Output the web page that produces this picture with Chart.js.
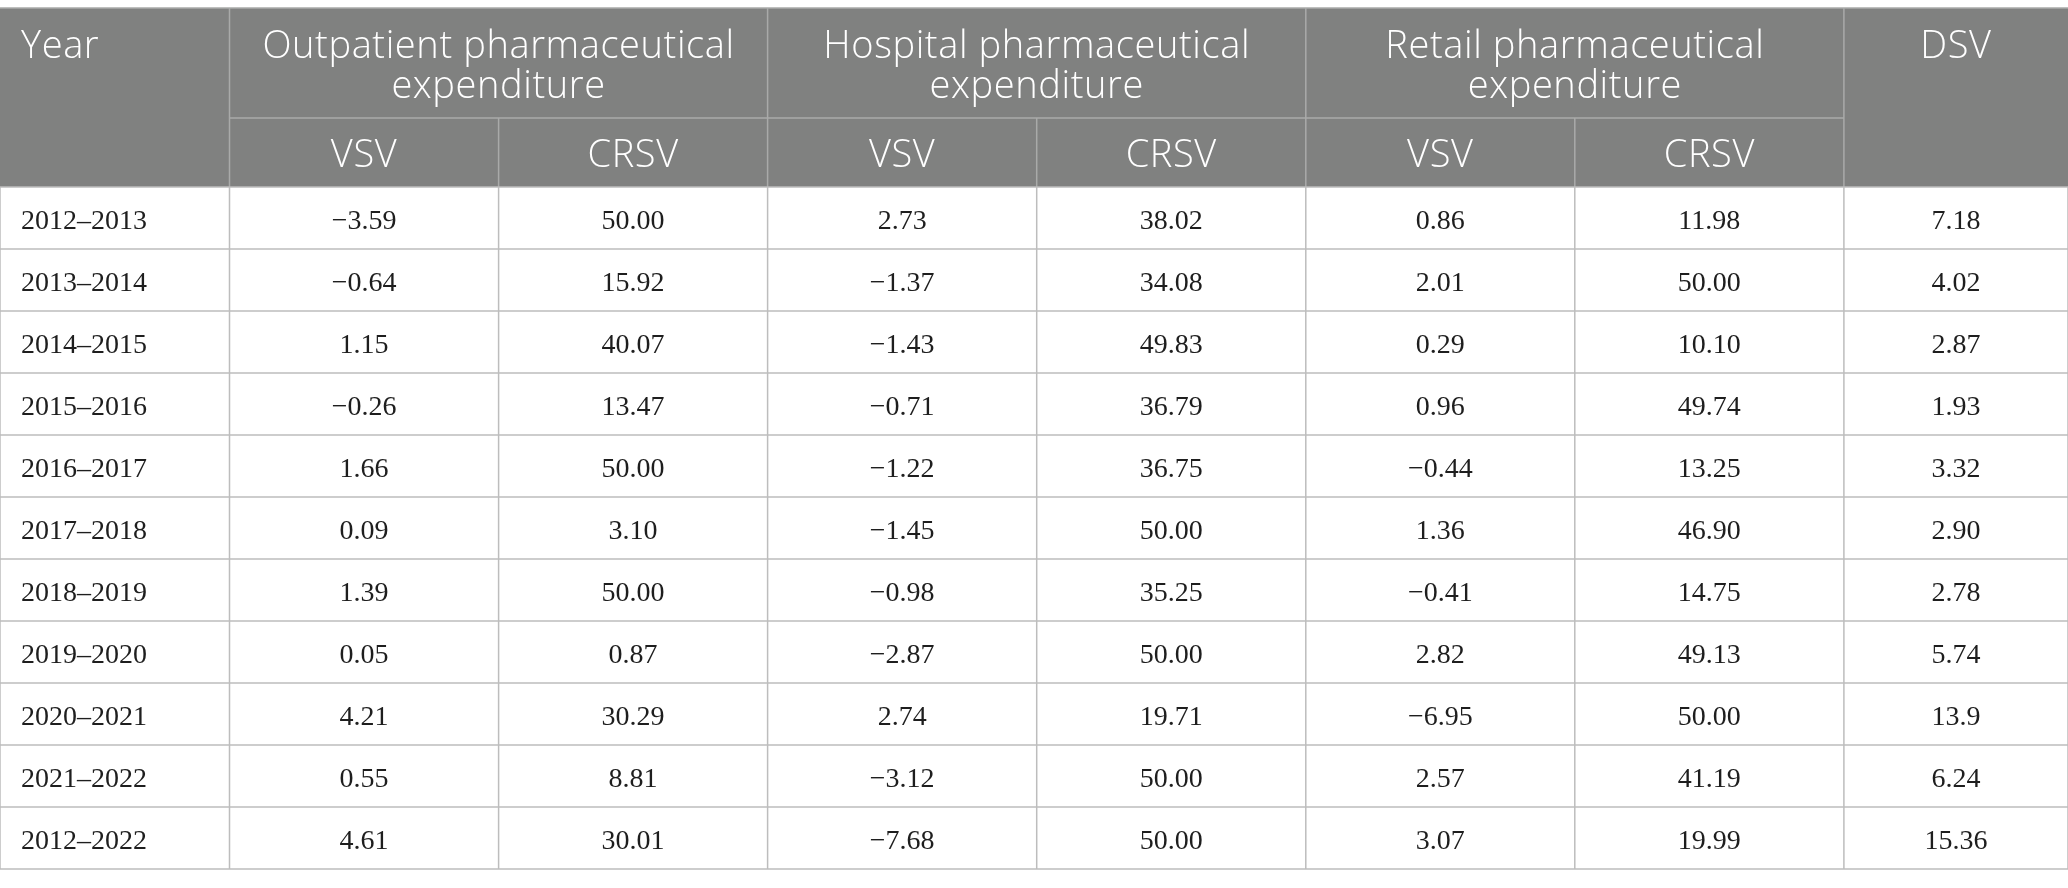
<!DOCTYPE html>
<html>
<head>
<meta charset="utf-8">
<script src="https://cdn.jsdelivr.net/npm/chart.js@4.4.1/dist/chart.umd.min.js"></script>
<style>
  html, body { margin: 0; padding: 0; background: #fff; }
  #wrap { width: 2068px; height: 888px; position: relative; }
</style>
</head>
<body>
<div id="wrap"><canvas id="chart-table"></canvas></div>
<script>
// table data
const YEARS = ["2012–2013", "2013–2014", "2014–2015", "2015–2016", "2016–2017", "2017–2018",
  "2018–2019", "2019–2020", "2020–2021", "2021–2022", "2012–2022"];
const OUTPATIENT_VSV = [-3.59, -0.64, 1.15, -0.26, 1.66, 0.09, 1.39, 0.05, 4.21, 0.55, 4.61];
const OUTPATIENT_CRSV = [50.00, 15.92, 40.07, 13.47, 50.00, 3.10, 50.00, 0.87, 30.29, 8.81, 30.01];
const HOSPITAL_VSV = [2.73, -1.37, -1.43, -0.71, -1.22, -1.45, -0.98, -2.87, 2.74, -3.12, -7.68];
const HOSPITAL_CRSV = [38.02, 34.08, 49.83, 36.79, 36.75, 50.00, 35.25, 50.00, 19.71, 50.00, 50.00];
const RETAIL_VSV = [0.86, 2.01, 0.29, 0.96, -0.44, 1.36, -0.41, 2.82, -6.95, 2.57, 3.07];
const RETAIL_CRSV = [11.98, 50.00, 10.10, 49.74, 13.25, 46.90, 14.75, 49.13, 50.00, 41.19, 19.99];
const DSV = [7.18, 4.02, 2.87, 1.93, 3.32, 2.90, 2.78, 5.74, 13.9, 6.24, 15.36];
const DSV_DECIMALS = [2, 2, 2, 2, 2, 2, 2, 2, 1, 2, 2];

const GROUP_LABELS = [
  ["Outpatient pharmaceutical", "expenditure"],
  ["Hospital pharmaceutical", "expenditure"],
  ["Retail pharmaceutical", "expenditure"],
];
const SUB_LABELS = ["VSV", "CRSV"];

// layout (x scale units = px of the 2068 wide table)
const COL_EDGES = [0, 229.5, 498.6, 767.6, 1036.7, 1305.8, 1574.8, 1843.9, 2068];
const HEADER_TOP = 8;
const HEADER_SPLIT = 118;
const HEADER_BOTTOM = 187;

const HEADER_BG = "#808180";
const HEADER_LINE = "#a9aaa9";
const GRID = "#bdbdbd";
const BODY_TEXT = "#1e1e1e";
const HEAD_FONT = '300 38px "Open Sans"';
const BODY_FONT = '28px "Liberation Serif"';

const fmt = (v, d = 2) => (v < 0 ? "\u2212" : "") + Math.abs(v).toFixed(d);
const colCenter = (c) => (COL_EDGES[c] + COL_EDGES[c + 1]) / 2;

const valueColumns = [OUTPATIENT_VSV, OUTPATIENT_CRSV, HOSPITAL_VSV, HOSPITAL_CRSV, RETAIL_VSV, RETAIL_CRSV, DSV];

const datasets = [
  {
    label: "Year",
    data: YEARS.map((y) => ({ x: COL_EDGES[0], y, text: y })),
    align: "left",
  },
  ...valueColumns.map((vals, c) => ({
    label: "col" + (c + 1),
    data: vals.map((v, i) => ({
      x: colCenter(c + 1),
      y: YEARS[i],
      text: fmt(v, vals === DSV ? DSV_DECIMALS[i] : 2),
    })),
    align: "center",
  })),
].map((d) => ({ ...d, pointRadius: 0, pointHoverRadius: 0 }));

const tablePlugin = {
  id: "tablePlugin",
  beforeDraw(chart) {
    const { ctx, width, height } = chart;
    const x = chart.scales.x;
    const y = chart.scales.y;
    const px = (v) => x.getPixelForValue(v);
    ctx.save();
    ctx.fillStyle = "#fff";
    ctx.fillRect(0, 0, width, height);

    // header block
    const left = px(COL_EDGES[0]);
    const right = px(COL_EDGES[COL_EDGES.length - 1]);
    ctx.fillStyle = HEADER_BG;
    ctx.fillRect(left, HEADER_TOP, right - left, HEADER_BOTTOM - HEADER_TOP);

    ctx.strokeStyle = HEADER_LINE;
    ctx.lineWidth = 1.5;
    ctx.beginPath();
    ctx.moveTo(left, HEADER_TOP);
    ctx.lineTo(right, HEADER_TOP);
    // group separators (full height)
    [1, 3, 5, 7].forEach((c) => {
      ctx.moveTo(px(COL_EDGES[c]), HEADER_TOP);
      ctx.lineTo(px(COL_EDGES[c]), HEADER_BOTTOM);
    });
    // sub column separators
    [2, 4, 6].forEach((c) => {
      ctx.moveTo(px(COL_EDGES[c]), HEADER_SPLIT);
      ctx.lineTo(px(COL_EDGES[c]), HEADER_BOTTOM);
    });
    ctx.moveTo(px(COL_EDGES[1]), HEADER_SPLIT);
    ctx.lineTo(px(COL_EDGES[7]), HEADER_SPLIT);
    ctx.stroke();

    // header text
    ctx.fillStyle = "#fff";
    ctx.font = HEAD_FONT;
    ctx.letterSpacing = "0.6px";
    ctx.textBaseline = "alphabetic";
    const line1 = 58;
    const line2 = 97.5;
    ctx.textAlign = "left";
    ctx.fillText("Year", px(COL_EDGES[0]) + 21, line1);
    ctx.textAlign = "center";
    GROUP_LABELS.forEach((lines, g) => {
      const cx = (px(COL_EDGES[1 + g * 2]) + px(COL_EDGES[3 + g * 2])) / 2;
      ctx.fillText(lines[0], cx, line1);
      ctx.fillText(lines[1], cx, line2);
      SUB_LABELS.forEach((s, k) => {
        ctx.fillText(s, px(colCenter(1 + g * 2 + k)), 167);
      });
    });
    ctx.fillText("DSV", px(colCenter(7)), line1);
    ctx.letterSpacing = "0px";

    // body grid
    ctx.strokeStyle = GRID;
    ctx.lineWidth = 1.5;
    ctx.beginPath();
    for (let i = 0; i <= YEARS.length; i++) {
      const yy = y.getPixelForValue(i - 0.5);
      ctx.moveTo(left, yy);
      ctx.lineTo(right, yy);
    }
    COL_EDGES.forEach((e) => {
      ctx.moveTo(px(e), y.getPixelForValue(-0.5));
      ctx.lineTo(px(e), y.getPixelForValue(YEARS.length - 0.5));
    });
    ctx.stroke();
    ctx.restore();
  },
  afterDatasetsDraw(chart) {
    const { ctx } = chart;
    ctx.save();
    ctx.font = BODY_FONT;
    ctx.fillStyle = BODY_TEXT;
    ctx.textBaseline = "alphabetic";
    chart.data.datasets.forEach((ds, d) => {
      const meta = chart.getDatasetMeta(d);
      ctx.textAlign = ds.align;
      meta.data.forEach((pt, i) => {
        const tx = ds.align === "left" ? pt.x + 21 : pt.x;
        ctx.fillText(ds.data[i].text, tx, pt.y + 11);
      });
    });
    ctx.restore();
  },
};

new Chart(document.getElementById("chart-table"), {
  type: "scatter",
  data: { datasets },
  options: {
    responsive: true,
    maintainAspectRatio: false,
    animation: false,
    events: [],
    layout: { padding: { top: HEADER_BOTTOM, bottom: 888 - 869, left: 0, right: 0 } },
    scales: {
      x: { type: "linear", display: false, min: COL_EDGES[0], max: COL_EDGES[COL_EDGES.length - 1] },
      y: { type: "category", labels: YEARS, display: false, offset: true },
    },
    plugins: { legend: { display: false }, tooltip: { enabled: false } },
  },
  plugins: [tablePlugin],
});
</script>
</body>
</html>
